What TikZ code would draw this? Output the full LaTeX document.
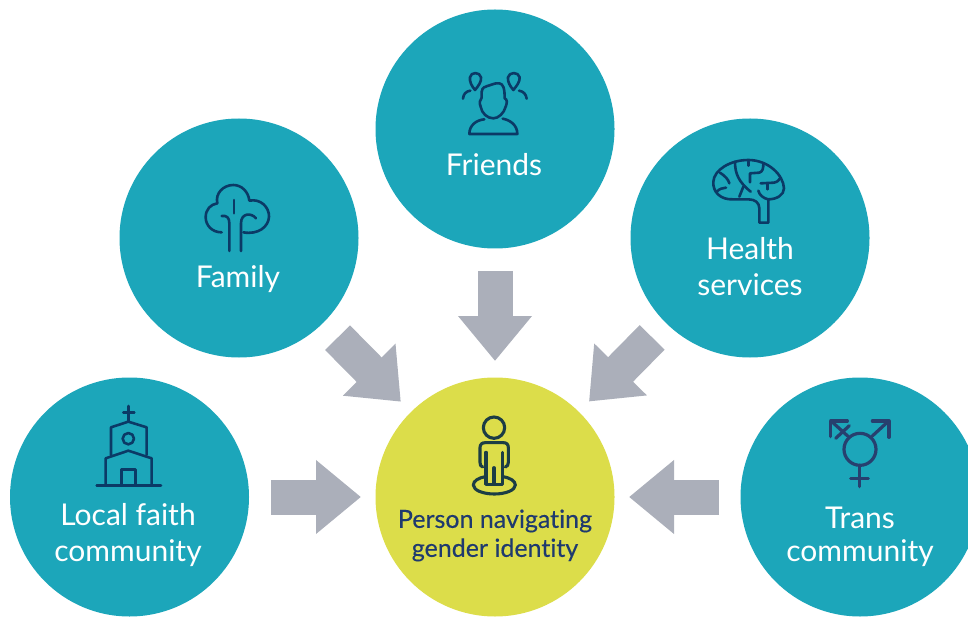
\documentclass[tikz,border=0pt]{standalone}
\usepackage{fontspec}
\setmainfont[Ligatures=NoCommon]{Lato}
\newfontfamily\hubfont[FakeBold=0.35,Ligatures=NoCommon]{Lato}
\usetikzlibrary{arrows.meta,calc}
\definecolor{teal1}{HTML}{1CA6BA}
\definecolor{yel1}{HTML}{DCDD4A}
\definecolor{gray1}{HTML}{ABAFBA}
\definecolor{navy1}{HTML}{0B3A66}
\definecolor{indigo1}{HTML}{27406F}
\definecolor{dark1}{HTML}{1C3D45}
\definecolor{txt1}{HTML}{1F3A6E}
\tikzset{
  bub/.style={circle,fill=teal1,minimum size=239pt,inner sep=0pt,outer sep=0pt},
  hub/.style={bub,fill=yel1},
  lab/.style={text=white,font=\fontsize{30}{36}\selectfont,align=center,inner sep=0pt},
  hublab/.style={text=txt1,font=\hubfont\fontsize{25}{29}\selectfont,align=center,inner sep=0pt},
  blockarrow/.style={draw=gray1,line width=35pt,-{Triangle[length=45pt,width=71pt,color=gray1]}},
  ico/.style={draw=navy1,line width=2.6pt,line cap=round,line join=round},
}
\newcommand{\feed}[2]{\draw[blockarrow] ($(hub)!#2+90pt!(#1)$) -- ($(hub)!#2!(#1)$);}
\begin{document}
\begin{tikzpicture}[x=1pt,y=-1pt]
\useasboundingbox (0,0) rectangle (968,617);
\begin{scope}
\clip (0,0) rectangle (968,617);
\node[bub] (friends) at (495,129) {};
\node[bub] (family) at (239,238) {};
\node[bub] (health) at (750,238) {};
\node[bub] (faith) at (129.5,497) {};
\node[hub] (hub) at (495,497) {};
\node[bub] (trans) at (860,497) {};
\end{scope}
\feed{friends}{136pt}\feed{family}{134pt}\feed{health}{134pt}\feed{faith}{134pt}\feed{trans}{134pt}
\node[lab] (tfriends) at (494,165) {Friends};
\node[lab] (tfamily) at (238,279) {Family};
\node[lab] (thealth) at (750,266.5) {Health\\services};
\node[lab] (tfaith) at (128,535) {Local faith\\community};
\node[lab] (ttrans) at (860,537) {Trans\\[-3pt]community};
\node[hublab] (thub) at (495,535.5) {Person navigating\\gender identity};
% friends icon
\begin{scope}[shift={(430,50)},scale=1/3]
\draw[ico] (155,125) .. controls (157,112) and (165,110) .. (172,108) .. controls (185,105) and (195,98) .. (208,100) .. controls (220,102) and (224,115) .. (224,145) .. controls (232,148) and (232,158) .. (227,170) .. controls (222,190) and (205,205) .. (190,205) .. controls (172,205) and (155,190) .. (152,170) .. controls (148,160) and (148,150) .. (155,143) -- cycle;
\draw[ico] (135,120) .. controls (125,108) and (118,95) .. (120,82) .. controls (122,65) and (150,65) .. (153,82) .. controls (155,95) and (145,108) .. (135,120) -- cycle;
\draw[ico] (250,120) .. controls (240,108) and (232,95) .. (234,82) .. controls (237,65) and (266,65) .. (269,82) .. controls (270,95) and (260,108) .. (250,120) -- cycle;
\draw[ico] (99,146) .. controls (100,132) and (108,124) .. (121,122);
\draw[ico] (290,146) .. controls (288,132) and (280,124) .. (267,122);
\draw[ico] (163,208) .. controls (140,210) and (118,225) .. (118,252) -- (262,252) .. controls (262,225) and (240,210) .. (218,206);
\end{scope}
% family icon
\begin{scope}[shift={(190,170)},scale=1/3]
\draw[ico] (95,187) .. controls (65,187) and (47,165) .. (47,142) .. controls (47,118) and (62,103) .. (82,100) .. controls (75,70) and (100,45) .. (130,45) .. controls (155,45) and (175,65) .. (178,92) .. controls (212,85) and (238,112) .. (237,140) .. controls (236,170) and (205,195) .. (160,187);
\draw[ico] (95,138) .. controls (110,136) and (118,142) .. (118,160) -- (118,243);
\draw[ico] (198,145) .. controls (185,128) and (153,128) .. (153,160) -- (153,243);
\draw[ico] (132,90) -- (132,130);
\end{scope}
% brain icon
\begin{scope}[shift={(700,150)},scale=1/3]
\draw[ico] (178,218) -- (178,175) .. controls (178,158) and (165,148) .. (145,148) -- (100,148) .. controls (60,150) and (38,125) .. (40,95) .. controls (42,60) and (90,30) .. (145,30) .. controls (205,30) and (250,75) .. (252,115) .. controls (252,135) and (230,148) .. (205,148) -- (205,218) -- cycle;
\draw[ico] (105,35) .. controls (105,70) and (115,95) .. (152,125);
\draw[ico] (130,110) -- (118,140);
\draw[ico] (60,68) .. controls (75,78) and (85,88) .. (88,100);
\draw[ico] (50,125) .. controls (58,117) and (68,113) .. (78,113);
\draw[ico] (145,35) -- (145,47);
\draw[ico] (150,97) -- (150,70) -- (178,68) .. controls (188,65) and (190,55) .. (190,42);
\draw[ico] (182,100) -- (222,98) .. controls (232,96) and (238,90) .. (240,85);
\draw[ico] (203,100) -- (203,118);
\draw[ico] (175,122) .. controls (178,135) and (190,145) .. (205,148);
\end{scope}
% church icon
\begin{scope}[shift={(85,400)},scale=1/3]
\draw[ico] (130,18) -- (130,62);
\draw[ico] (115,37) -- (148,37);
\draw[ico] (35,256) -- (228,256);
\draw[ico] (78,165) -- (78,82) -- (130,65) -- (185,82) -- (185,165);
\draw[ico] (62,256) -- (62,175) -- (130,152) -- (200,175) -- (200,256);
\draw[ico] (110,256) -- (110,208) -- (152,208) -- (152,256);
\draw[ico] (130,116) circle[radius=17];
\end{scope}
% trans icon
\begin{scope}[shift={(815,410)},scale=1/3]
\tikzset{ico/.append style={draw=indigo1,line width=3.2pt}}
\draw[ico] (135,118) circle[radius=48];
\draw[ico] (133,166) -- (133,230);
\draw[ico] (107,205) -- (160,205);
\draw[ico] (172,78) -- (222,32);
\draw[ico] (172,33) -- (222,33) -- (222,82);
\draw[ico] (98,78) -- (47,32);
\draw[ico] (47,80) -- (47,33) -- (97,33);
\draw[ico] (62,85) -- (103,47);
\end{scope}
% person icon
\begin{scope}[shift={(460,405)},scale=1/3]
\tikzset{ico/.append style={draw=dark1,line width=3.1pt}}
\draw[ico] (102,68) circle[radius=32];
\draw[ico] (68,186) .. controls (62,184) and (60,180) .. (60,172) -- (60,128) .. controls (60,118) and (66,113) .. (76,113) -- (130,113) .. controls (140,113) and (145,118) .. (145,128) -- (145,172) .. controls (145,180) and (142,184) .. (136,186);
\draw[ico] (78,142) -- (78,238) -- (128,238) -- (128,142);
\draw[ico] (102,188) -- (102,238);
\draw[ico] (78,215) .. controls (55,218) and (40,228) .. (40,240) .. controls (40,256) and (70,267) .. (103,267) .. controls (136,267) and (166,256) .. (166,240) .. controls (166,228) and (150,218) .. (128,215);
\end{scope}
\end{tikzpicture}
\end{document}
